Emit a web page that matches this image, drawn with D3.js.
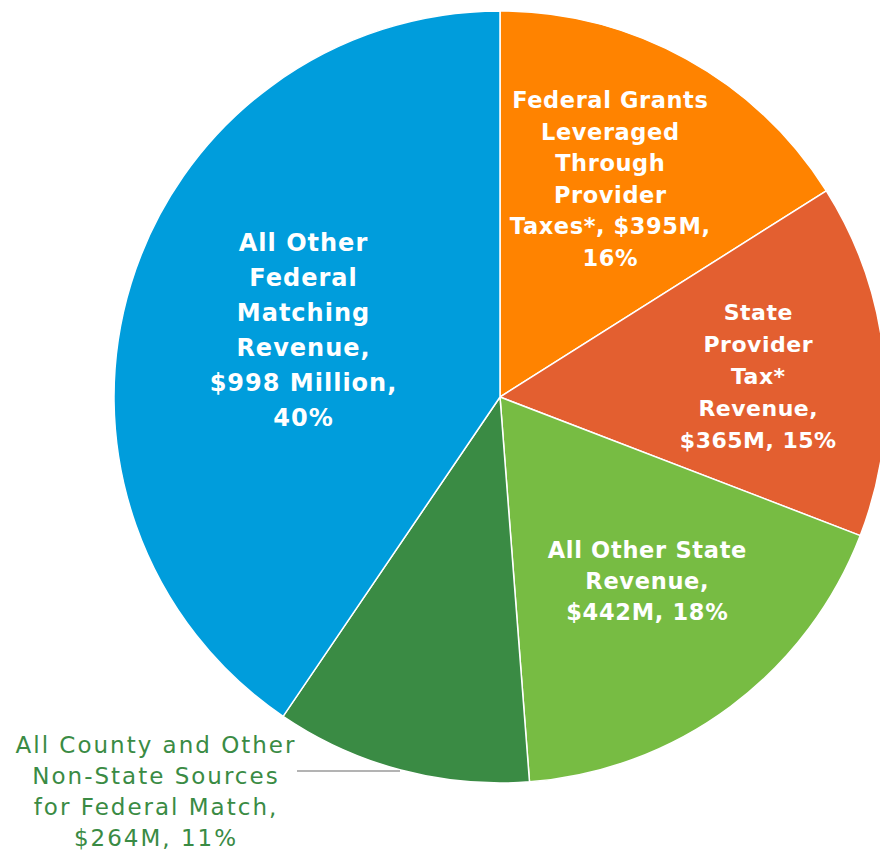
<!DOCTYPE html>
<html><head><meta charset="utf-8">
<script src="https://cdn.jsdelivr.net/npm/d3@7"></script>
<style>html,body{margin:0;padding:0;background:#fff;}svg{display:block;}</style>
</head><body>
<svg id="chart" width="880" height="852"></svg>
<script>
const categories = ["Federal Grants Leveraged Through Provider Taxes*","State Provider Tax* Revenue","All Other State Revenue","All County and Other Non-State Sources for Federal Match","All Other Federal Matching Revenue"];
const values = [395, 365, 442, 264, 998];
const colors = ["#ff8300", "#e35f30", "#77bc43", "#3a8b44", "#009ddc"];
const labelLines = [
  ["Federal Grants","Leveraged","Through","Provider","Taxes*, $395M,","16%"],
  ["State","Provider","Tax*","Revenue,","$365M, 15%"],
  ["All Other State","Revenue,","$442M, 18%"],
  ["All County and Other","Non-State Sources","for Federal Match,","$264M, 11%"],
  ["All Other","Federal","Matching","Revenue,","$998 Million,","40%"]
];
// layout (label block centers, line heights, type)
const labelLayout = [
  {x:610, y:100, lh:31.6, color:"#fff", weight:700, size:22.5, ls:0.6},
  {x:758, y:312, lh:32, color:"#fff", weight:700, size:22, ls:0.5},
  {x:647, y:550, lh:31, color:"#fff", weight:700, size:22.5, ls:0.7},
  {x:155, y:745, lh:31, color:"#3a8b44", weight:400, size:23, ls:2},
  {x:303, y:243, lh:35, color:"#fff", weight:700, size:24, ls:1}
];
const cx = 500, cy = 397, R = 386;
const svg = d3.select("#chart");
const pie = d3.pie().sort(null).value(d => d)(values);
const arc = d3.arc().innerRadius(0).outerRadius(R);
const g = svg.append("g").attr("transform", `translate(${cx},${cy})`);
g.selectAll("path").data(pie).join("path")
  .attr("d", arc).attr("fill", (d,i) => colors[i])
  .attr("stroke", "#fff").attr("stroke-width", 1.5);

svg.append("line")
  .attr("x1", 297).attr("y1", 771)
  .attr("x2", 400).attr("y2", 771)
  .attr("stroke", "#b3b3b3").attr("stroke-width", 2);

labelLines.forEach((lines, i) => {
  const L = labelLayout[i];
  const t = svg.append("text")
    .attr("text-anchor", "middle")
    .attr("font-family", "'DejaVu Sans', sans-serif")
    .attr("font-size", L.size)
    .attr("letter-spacing", L.ls)
    .attr("font-weight", L.weight)
    .attr("fill", L.color);
  lines.forEach((s, j) => {
    t.append("tspan").attr("x", L.x + L.ls/2).attr("y", L.y + j*L.lh)
      .attr("dominant-baseline", "central").text(s);
  });
});
</script>
</body></html>
